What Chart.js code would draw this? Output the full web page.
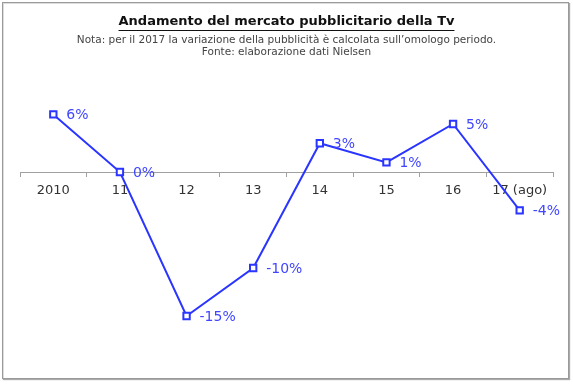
<!DOCTYPE html>
<html>
<head>
<meta charset="utf-8">
<script src="https://cdn.jsdelivr.net/npm/chart.js@4/dist/chart.umd.min.js"></script>
<style>
  html, body { margin: 0; padding: 0; background: #fff; }
  #wrap { position: relative; width: 573px; height: 384px; }
  #c { position: absolute; left: 0; top: 0; }
  #frame { position: absolute; left: 2px; top: 2px; width: 565px; height: 375px;
           border: 1px solid #9a9a9a; box-shadow: 1px 1px 1px #aaa, inset 1px 1px 0 #ddd; pointer-events: none; }
</style>
</head>
<body>
<div id="wrap">
  <canvas id="c" width="573" height="384"></canvas>
  <div id="frame"></div>
</div>
<script>
const titleText = 'Andamento del mercato pubblicitario della Tv';
const subtitleLines = [
  'Nota: per il 2017 la variazione della pubblicità è calcolata sull\u2019omologo periodo.',
  'Fonte: elaborazione dati Nielsen'
];
const categories = ['2010', '11', '12', '13', '14', '15', '16', '17 (ago)'];
const values = [6, 0, -15, -10, 3, 1, 5, -4];

const labelPlugin = {
  id: 'pointLabels',
  afterDatasetsDraw(chart) {
    const ctx = chart.ctx;
    const meta = chart.getDatasetMeta(0);
    ctx.save();
    ctx.font = '14px "DejaVu Sans"';
    ctx.fillStyle = '#4046ff';
    ctx.textAlign = 'left';
    ctx.textBaseline = 'middle';
    meta.data.forEach((pt, i) => {
      ctx.fillText(values[i] + '%', pt.x + 13, pt.y + 1);
    });
    ctx.restore();
  }
};

const underlinePlugin = {
  id: 'titleUnderline',
  afterDraw(chart) {
    const tb = chart.titleBlock;
    if (!tb) return;
    const ctx = chart.ctx;
    ctx.save();
    ctx.font = 'bold 13px "DejaVu Sans"';
    const w = ctx.measureText(titleText).width;
    const cx = (tb.left + tb.right) / 2;
    const y = Math.round(tb.top + 4 + 15.6) + 0.5;
    ctx.strokeStyle = '#111';
    ctx.lineWidth = 1.2;
    ctx.beginPath();
    ctx.moveTo(cx - w / 2, y);
    ctx.lineTo(cx + w / 2, y);
    ctx.stroke();
    ctx.restore();
  }
};

new Chart(document.getElementById('c'), {
  type: 'line',
  data: {
    labels: categories,
    datasets: [{
      data: values,
      borderColor: '#2a35ff',
      borderWidth: 2,
      pointStyle: 'rect',
      pointRadius: 4.5,
      pointBorderWidth: 2,
      pointBackgroundColor: '#ffffff',
      pointBorderColor: '#2a35ff',
      tension: 0
    }]
  },
  options: {
    responsive: false,
    animation: false,
    layout: { padding: { left: 20, right: 20, top: 10, bottom: 20 } },
    plugins: {
      legend: { display: false },
      tooltip: { enabled: false },
      title: {
        display: true,
        text: titleText,
        color: '#111',
        font: { family: '"DejaVu Sans"', size: 13, weight: 'bold', lineHeight: 1.2 },
        padding: { top: 4, bottom: 2 }
      },
      subtitle: {
        display: true,
        text: subtitleLines,
        color: '#444',
        font: { family: '"DejaVu Sans"', size: 10.5, lineHeight: 1.143 },
        padding: { top: 2.4, bottom: 18 }
      }
    },
    scales: {
      x: {
        type: 'category',
        position: { y: 0 },
        offset: true,
        grid: { offset: true, drawOnChartArea: false, drawTicks: true, tickLength: 4, color: '#a0a0a0' },
        border: { display: true, color: '#a0a0a0', width: 1 },
        ticks: { color: '#333', font: { family: '"DejaVu Sans"', size: 13 }, padding: 7, maxRotation: 0, autoSkip: false }
      },
      y: {
        display: false,
        min: -20,
        max: 10
      }
    }
  },
  plugins: [labelPlugin, underlinePlugin]
});
</script>
</body>
</html>
